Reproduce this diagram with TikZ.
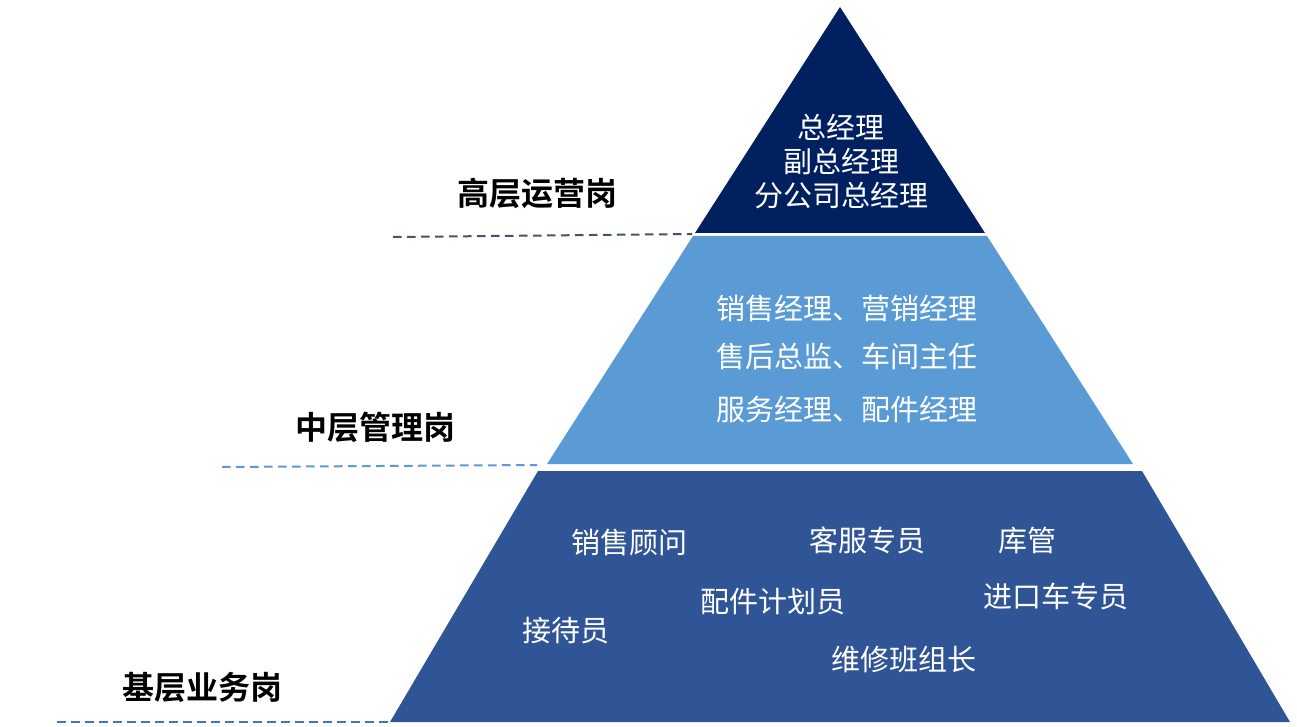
\documentclass[tikz,border=0pt]{standalone}
\usepackage{fontspec}
\newfontfamily\cjk{Noto Sans CJK SC}[BoldFont={Noto Sans CJK SC Bold}]
\definecolor{topc}{RGB}{0,32,96}
\definecolor{midc}{RGB}{91,155,213}
\definecolor{botc}{RGB}{47,85,151}
\definecolor{dash1}{RGB}{68,84,106}
\definecolor{dash3}{RGB}{68,114,196}
\begin{document}
\begin{tikzpicture}[x=1pt,y=-1pt,
  lvl/.style={font=\cjk\bfseries\fontsize{32}{36}\selectfont,text=black,inner sep=0pt},
  wt/.style={font=\cjk\fontsize{29}{34}\selectfont,text=white,inner sep=0pt,align=center},
  dl/.style={dash pattern=on 8.5pt off 5.5pt,line width=2pt}]
\useasboundingbox (0,0) rectangle (1297,727);
\fill[white] (0,0) rectangle (1297,727);
% shapes
\fill[topc] (840,7) -- (985,233) -- (695,233) -- cycle;
\fill[midc] (693,236) -- (987,236) -- (1133,464) -- (547,464) -- cycle;
\fill[botc] (538,471) -- (1142,471) -- (1290,722) -- (390,722) -- cycle;
% dashed lines
\coordinate (d1a) at (393,237);
\coordinate (d1b) at (692,234);
\coordinate (d2a) at (222,467);
\coordinate (d2b) at (537,465);
\coordinate (d3a) at (57,722);
\coordinate (d3b) at (388,722);
\draw[dl,dash1] (d1a) -- (d1b);
\draw[dl,midc] (d2a) -- (d2b);
\draw[dl,dash3] (d3a) -- (d3b);
% level labels
\node[lvl] (l1) at (537,193) {高层运营岗};
\node[lvl] (l2) at (375,427) {中层管理岗};
\node[lvl] (l3) at (202,687) {基层业务岗};
% top text
\node[wt] (t1) at (841,127) {总经理};
\node[wt] (t2) at (841,161) {副总经理};
\node[wt] (t3) at (841,196) {分公司总经理};
% middle text
\node[wt] (m1) at (847,308) {销售经理、营销经理};
\node[wt] (m2) at (847,356) {售后总监、车间主任};
\node[wt] (m3) at (847,409) {服务经理、配件经理};
% bottom text
\node[wt] (b1) at (629,542) {销售顾问};
\node[wt] (b2) at (867,540) {客服专员};
\node[wt] (b3) at (1027,540) {库管};
\node[wt] (b4) at (1056,596) {进口车专员};
\node[wt] (b5) at (773,602) {配件计划员};
\node[wt] (b6) at (566,631) {接待员};
\node[wt] (b7) at (904,659) {维修班组长};
\end{tikzpicture}
\end{document}
